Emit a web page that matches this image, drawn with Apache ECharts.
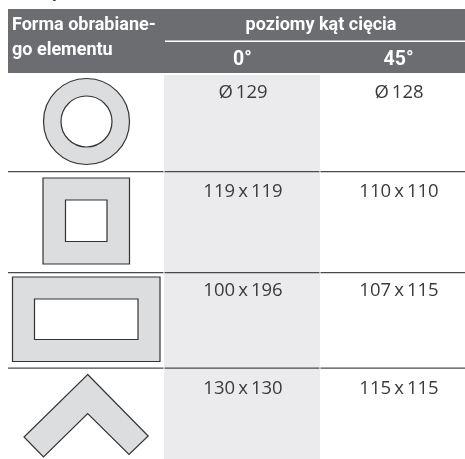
<!DOCTYPE html>
<html><head><meta charset="utf-8">
<style>html,body{margin:0;padding:0;background:#fff}#c{width:465px;height:459px}</style>
<script src="https://cdn.jsdelivr.net/npm/echarts@6/dist/echarts.min.js"></script>
</head><body><div id="c"></div>
<script>
const caption = ['maksymalna', 'wielkość elementu:'];
const firstHeader = ['Forma obrabiane-', 'go elementu'];
const groupHeader = 'poziomy kąt cięcia';
const angles = ['0°', '45°'];
const values0 = ['Ø\u2009129', '119\u2009x\u2009119', '100\u2009x\u2009196', '130\u2009x\u2009130'];
const values45 = ['Ø\u2009128', '110\u2009x\u2009110', '107\u2009x\u2009115', '115\u2009x\u2009115'];
const shapes = ['circle', 'square', 'rectangle', 'angle'];

const W = 465, H = 459;
const F = '"Open Sans", sans-serif';
const HF = 'Roboto, sans-serif';
const rowTextY = [83, 182, 281, 379];
const rowLines = [171, 272, 367.5];
const TEXT = '#3a3b3d', EDGE = '#333', GREY = '#dcddde', SHADE = '#ebebed', HEAD = '#6c6d70';

function shapeItems(kind, coord) {
  const poly = pts => pts.map(p => coord(p));
  const st = {fill: GREY, stroke: EDGE, lineWidth: 1.2};
  const hole = {fill: '#fff', stroke: EDGE, lineWidth: 1.2};
  const rect = (x0, y0, x1, y1) => poly([[x0, y0], [x1, y0], [x1, y1], [x0, y1]]);
  if (kind === 'circle') {
    const c = coord([86.5, 121.5]);
    return [
      {type: 'circle', shape: {cx: c[0], cy: c[1], r: 43}, style: st},
      {type: 'circle', shape: {cx: c[0], cy: c[1], r: 25.5}, style: hole}
    ];
  }
  if (kind === 'square') return [
    {type: 'polygon', shape: {points: rect(43, 178, 129.5, 264)}, style: st},
    {type: 'polygon', shape: {points: rect(65.5, 200, 107, 241.5)}, style: hole}
  ];
  if (kind === 'rectangle') return [
    {type: 'polygon', shape: {points: rect(12.5, 277, 160, 361.5)}, style: st},
    {type: 'polygon', shape: {points: rect(34.5, 299, 138, 339.5)}, style: hole}
  ];
  return [{type: 'polygon', shape: {points: poly([[87.7, 374.5], [148.2, 436], [129, 454.5], [87.7, 413.5], [43.5, 457], [24, 437]])}, style: st}];
}

const chart = echarts.init(document.getElementById('c'), null, {renderer: 'canvas'});
const txt = (x, y, s, o) => ({type: 'text', x, y, style: Object.assign({text: s, fontFamily: F, fontSize: 18.5, fill: TEXT, align: 'center', verticalAlign: 'top'}, o || {})});
const hd = {fontFamily: HF, fontWeight: 700, fontSize: 18, fill: '#fff'};

chart.setOption({
  animation: false,
  backgroundColor: '#fff',
  grid: {left: 0, right: 0, top: 0, bottom: 0},
  xAxis: {type: 'value', min: 0, max: W, show: false},
  yAxis: {type: 'value', min: 0, max: H, inverse: true, show: false},
  series: [{
    type: 'custom',
    coordinateSystem: 'cartesian2d',
    silent: true,
    clip: false,
    data: shapes.map((s, i) => [i]),
    renderItem: (params, api) => ({type: 'group', children: shapeItems(shapes[params.dataIndex], p => api.coord(p))})
  }],
  graphic: [
    {type: 'rect', z: -1, shape: {x: 164, y: 75, width: 156, height: 384}, style: {fill: SHADE}},
    {type: 'rect', z: -1, shape: {x: 8, y: 9, width: 457, height: 64}, style: {fill: HEAD}},
    {type: 'rect', z: -1, shape: {x: 165, y: 40.5, width: 300, height: 1.5}, style: {fill: '#fff'}},
    ...rowLines.map(y => ({type: 'rect', z: -1, shape: {x: 8, y: y, width: 457, height: 1.3}, style: {fill: '#4a4a4c'}})),
    ...[164, 320].flatMap(x => rowLines.map(y => ({type: 'rect', z: -1, shape: {x: x - 0.5, y: y - 0.5, width: 1, height: 2.3}, style: {fill: '#fff'}}))),
    txt(8, -16.5, caption[0], {align: 'left', fontFamily: HF, fontWeight: 700, fontSize: 18}),
    txt(118, -16.5, caption[1], {align: 'left', fontFamily: HF, fontSize: 18}),
    txt(12, 16, firstHeader[0], Object.assign({}, hd, {align: 'left'})),
    txt(12, 41, firstHeader[1], Object.assign({}, hd, {align: 'left'})),
    txt(321, 16, groupHeader, hd),
    txt(242.5, 50, angles[0], Object.assign({}, hd, {fontSize: 19.5})),
    txt(398.5, 50, angles[1], Object.assign({}, hd, {fontSize: 19.5})),
    ...values0.map((s, i) => txt(243, rowTextY[i], s)),
    ...values45.map((s, i) => txt(399, rowTextY[i], s))
  ]
});
</script></body></html>
